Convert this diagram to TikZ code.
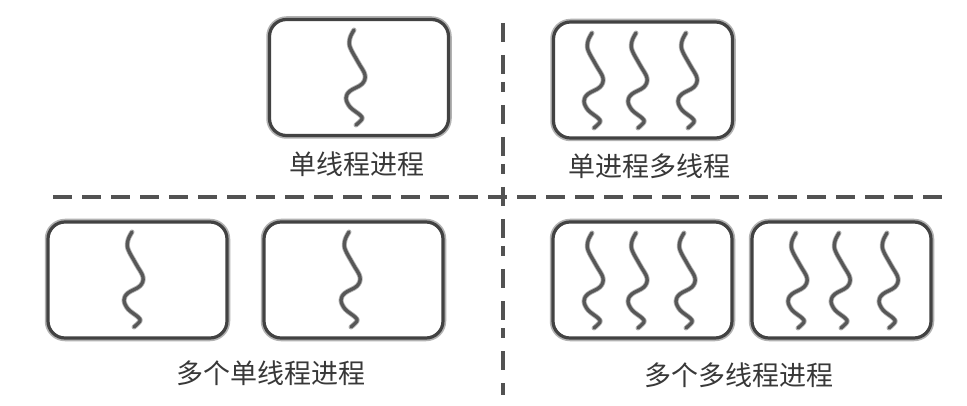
\documentclass[tikz,border=0pt]{standalone}
\usepackage{fontspec}
\newfontfamily\cjk{Noto Sans CJK SC}
\begin{document}
\begin{tikzpicture}[x=1pt,y=-1pt,
  procbox/.style={rounded corners=17pt, minimum width=179pt, minimum height=116pt, inner sep=0pt},
  boxhalo/.style={draw=black!30, line width=6.5pt},
  boxline/.style={draw=black!74, line width=3.2pt},
  threadhalo/.style={draw=black!30, line width=5pt, line cap=round, line join=round},
  threadline/.style={draw=black!66, line width=3.3pt, line cap=round, line join=round},
  divline/.style={draw=black!68, line width=4.5pt},
  caption/.style={font=\cjk\fontsize{27}{30}\selectfont, text=black!78, inner sep=0pt},
  thread/.pic={
    \path[threadhalo] plot[smooth, tension=0.6] coordinates {(0,0) (-4,8) (-4,17) (4,32) (11,45) (8,54) (-4,61) (-8,68) (-4,77) (6,85) (8,89) (2,95)};
    \path[threadline] plot[smooth, tension=0.6] coordinates {(0,0) (-4,8) (-4,17) (4,32) (11,45) (8,54) (-4,61) (-8,68) (-4,77) (6,85) (8,89) (2,95)};}
]
\useasboundingbox (0,0) rectangle (967,406);
\fill[white] (0,0) rectangle (967,406);

% dividers
\coordinate (hl) at (53,197);
\coordinate (hr) at (942,197);
\coordinate (vt) at (503,23);
\coordinate (vb) at (503,395);
\draw[divline, dash pattern=on 19pt off 10pt] (hl) -- (hr);
\draw[divline, dash pattern=on 19pt off 13pt on 19pt off 8pt on 10pt off 13pt] (vt) -- (vb);

% process boxes
\foreach \n/\cx/\cy in {p1/359/77.5, p2/643/80, p3/137.5/280, p4/353.5/280, p5/642.5/280, p6/841.5/280}{
  \node[procbox, boxhalo] at (\cx,\cy) {};
  \node[procbox, boxline, fill=white] (\n) at (\cx,\cy) {};
}

% threads
\pic at (354,30) {thread};
\foreach \tx in {592,636,686}{ \pic at (\tx,33) {thread}; }
\pic at (132,232) {thread};
\pic at (349,232) {thread};
\foreach \tx in {592,636,684,796,839,887}{ \pic at (\tx,233) {thread}; }

% captions
\node[caption] (c1) at (357,164) {单线程进程};
\node[caption] (c2) at (649,166) {单进程多线程};
\node[caption] (c3) at (271,373) {多个单线程进程};
\node[caption] (c4) at (739,375) {多个多线程进程};
\end{tikzpicture}
\end{document}
